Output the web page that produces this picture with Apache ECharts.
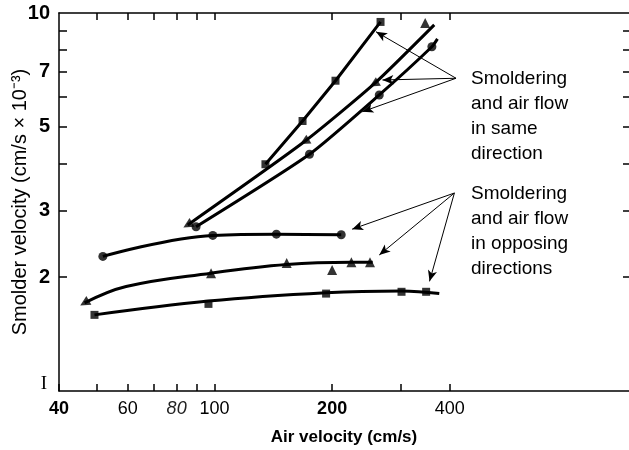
<!DOCTYPE html>
<html><head><meta charset="utf-8">
<script src="https://cdn.jsdelivr.net/npm/echarts@6/dist/echarts.min.js"></script>
<style>html,body{margin:0;padding:0;background:#fff}#c{width:629px;height:450px}</style>
</head><body><div id="c"></div>
<script>
// ---- axis ticks / labels ----
const xTickValues = [40, 50, 60, 70, 80, 90, 100, 200, 300, 400];
const xTopTickValues = [50, 60, 70, 80, 90, 100, 200, 300, 400];
const xLabelValues = [40, 60, 80, 100, 200, 400];
const yTickValues = [2, 3, 4, 5, 6, 7, 8, 9];
const yLabelValues = [1, 2, 3, 5, 7, 10];

// ---- smoldering and air flow in same direction ----
const sameSquare = [[135, 3.98], [168, 5.18], [204, 6.62], [266, 9.47]];
const sameTriangle = [[85.4, 2.75], [170, 4.57], [256, 6.49], [346, 9.41]];
const sameTriangleCurve = [[85.4, 2.75], [170, 4.57], [256, 6.49], [365, 9.30]];
const sameCircle = [[89.7, 2.72], [175, 4.23], [264, 6.07], [360, 8.14]];
const sameCircleCurve = [[89.7, 2.72], [175, 4.23], [264, 6.07], [360, 8.14], [372, 8.54]];

// ---- smoldering and air flow in opposing directions ----
const oppCircle = [[51.8, 2.27], [99, 2.58], [144, 2.60], [211, 2.59]];
const oppTriangle = [[46.5, 1.71], [98, 2.05], [153, 2.18], [200, 2.09], [224, 2.19], [250, 2.19]];
const oppTriangleCurve = [[46.5, 1.71], [59.4, 1.89], [98, 2.05], [153, 2.16], [224, 2.19], [254, 2.19]];
const oppSquare = [[49.3, 1.59], [96.5, 1.70], [193, 1.81], [301, 1.83], [348, 1.83]];
const oppSquareCurve = [[49.3, 1.59], [96.5, 1.73], [193, 1.82], [301, 1.84], [376, 1.81]];

// ---- annotation arrows (data coordinates) ----
const arrowSameFrom = [415, 6.72];
const arrowSameTo = [[259, 8.92], [269, 6.65], [239, 5.48]];
const arrowOppFrom = [411, 3.34];
const arrowOppTo = [[225, 2.68], [264, 2.29], [355, 1.95]];

const textSame = 'Smoldering\nand air flow\nin same\ndirection';
const textOpp = 'Smoldering\nand air flow\nin opposing\ndirections';

// ---- styles (not data) ----
const xLabelStyle = {40: 'b', 60: 'n', 80: 'i', 100: 'n', 200: 'b', 400: 'n'};
const sameTriRot = [120, 120, 120, 0];
const oppTriRot = [120, 0, 0, 0, 0, 0];
const FONT = '"Liberation Sans", Arial, Helvetica, sans-serif';

function curve(data, smooth) {
  return {type: 'line', data: data, symbol: 'none', smooth: smooth, silent: true,
    lineStyle: {color: '#000', width: 3}, z: 2, animation: false};
}
function marks(data, symbol, size, rot) {
  return {type: 'scatter', symbol: symbol, symbolSize: size, silent: true,
    data: data.map((d, i) => ({value: d, symbolRotate: rot ? rot[i] : 0})),
    itemStyle: {color: '#000'}, z: 3, animation: false};
}
function arrows(from, tos) {
  return tos.map(t => [{coord: from, symbol: 'none'}, {coord: t, symbol: 'arrow', symbolSize: [7, 11]}]);
}

const chart = echarts.init(document.getElementById('c'), null, {renderer: 'canvas'});
const axisLineStyle = {color: '#000', width: 1.5};
const option = {
  backgroundColor: '#fff',
  animation: false,
  grid: {left: 59, right: 0, top: 13, bottom: 59, containLabel: false, outerBoundsMode: 'none'},
  xAxis: [
    {type: 'log', logBase: 10, min: 40, max: 1150, position: 'bottom',
      axisLine: {show: true, onZero: false, lineStyle: axisLineStyle},
      axisTick: {show: true, inside: true, length: 7, customValues: xTickValues, lineStyle: axisLineStyle},
      minorTick: {show: false}, splitLine: {show: false},
      axisLabel: {show: true, customValues: xLabelValues, margin: 9, color: '#000',
        fontFamily: FONT, fontSize: 17,
        formatter: function (v) { const r = Math.round(v); return '{' + (xLabelStyle[r] || 'n') + '|' + r + '}'; },
        rich: {
          b: {fontFamily: FONT, fontSize: 18, fontWeight: 'bold', color: '#000'},
          n: {fontFamily: FONT, fontSize: 18, color: '#000'},
          i: {fontFamily: FONT, fontSize: 18, fontStyle: 'italic', color: '#222'}
        }},
      name: 'Air velocity (cm/s)', nameLocation: 'middle', nameGap: 38, nameMoveOverlap: false,
      nameTextStyle: {fontFamily: FONT, fontSize: 17, fontWeight: 'bold', color: '#000'}},
    {type: 'log', logBase: 10, min: 40, max: 1150, position: 'top',
      axisLine: {show: true, onZero: false, lineStyle: axisLineStyle},
      axisTick: {show: true, inside: true, length: 7, customValues: xTopTickValues, lineStyle: axisLineStyle},
      axisLabel: {show: false}, splitLine: {show: false}, minorTick: {show: false}}
  ],
  yAxis: [
    {type: 'log', logBase: 10, min: 1, max: 10, position: 'left',
      axisLine: {show: true, onZero: false, lineStyle: axisLineStyle},
      axisTick: {show: true, inside: true, length: 8, customValues: yTickValues, lineStyle: axisLineStyle},
      minorTick: {show: false}, splitLine: {show: false},
      axisLabel: {show: true, customValues: yLabelValues, margin: 9, color: '#000',
        formatter: function (v) { const r = Math.round(v); return r === 1 ? '{one|I}' : '{b|' + r + '}'; },
        rich: {
          b: {fontFamily: FONT, fontSize: 20, fontWeight: 'bold', color: '#000'},
          one: {fontFamily: '"Liberation Serif", serif', fontSize: 19, color: '#000', padding: [0, 3, 14, 0]}
        }},
      name: 'Smolder velocity (cm/s × 10\u207B\u00B3)', nameLocation: 'middle', nameGap: 29, nameMoveOverlap: false,
      nameTextStyle: {fontFamily: FONT, fontSize: 20, color: '#000'}},
    {type: 'log', logBase: 10, min: 1, max: 10, position: 'right',
      axisLine: {show: false, onZero: false},
      axisTick: {show: true, inside: true, length: 6, customValues: yTickValues, lineStyle: axisLineStyle},
      axisLabel: {show: false}, splitLine: {show: false}, minorTick: {show: false}}
  ],
  series: [
    Object.assign(curve(sameSquare, false), {
      markLine: {silent: true, symbol: ['none', 'arrow'], symbolSize: 10, animation: false,
        label: {show: false}, emphasis: {disabled: true},
        lineStyle: {color: '#000', width: 1, type: 'solid', opacity: 1},
        data: arrows(arrowSameFrom, arrowSameTo).concat(arrows(arrowOppFrom, arrowOppTo))}
    }),
    marks(sameSquare, 'rect', 8),
    curve(sameTriangleCurve, 0.2),
    marks(sameTriangle, 'triangle', 10, sameTriRot),
    curve(sameCircleCurve, 0.2),
    marks(sameCircle, 'circle', 9),
    curve(oppCircle, 0.4),
    marks(oppCircle, 'circle', 9),
    curve(oppTriangleCurve, 0.4),
    marks(oppTriangle, 'triangle', 10, oppTriRot),
    curve(oppSquareCurve, 0.4),
    marks(oppSquare, 'rect', 8)
  ],
  graphic: [
    {type: 'text', left: 471, top: 66, silent: true,
      style: {text: textSame, fontFamily: FONT, fontSize: 19, lineHeight: 25, fill: '#000'}},
    {type: 'text', left: 471, top: 181, silent: true,
      style: {text: textOpp, fontFamily: FONT, fontSize: 19, lineHeight: 25, fill: '#000'}}
  ]
};
chart.setOption(option);
</script>
</body></html>
